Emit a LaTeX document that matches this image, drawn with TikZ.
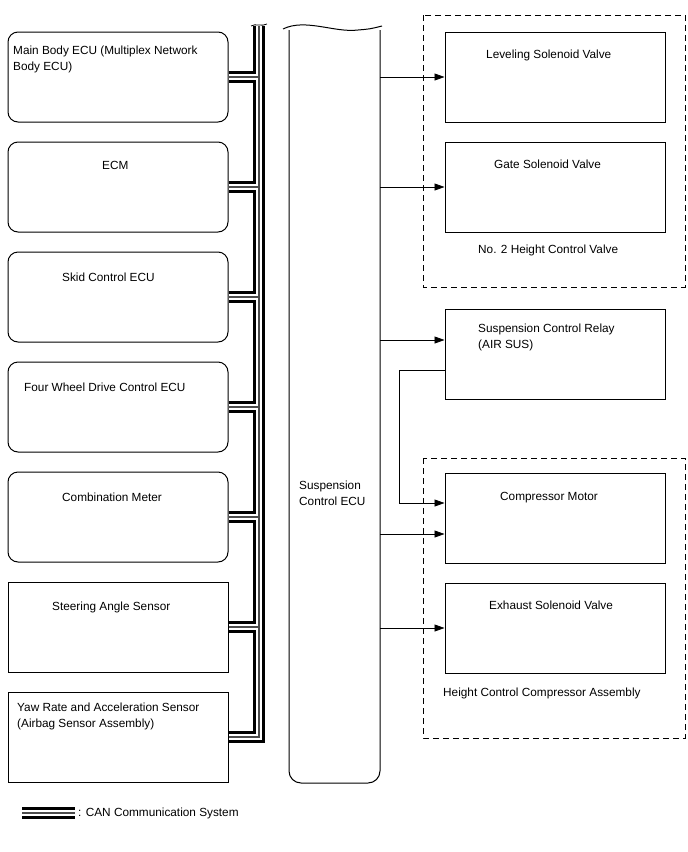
\documentclass[tikz,border=0pt]{standalone}
\usepackage{fontspec}
\setmainfont{Liberation Sans}
\usetikzlibrary{arrows.meta,calc}
\begin{document}
\begin{tikzpicture}[x=1pt,y=-1pt,
 lbox/.style={draw, line width=1pt, rounded corners=10pt, minimum width=220pt, minimum height=90pt, inner sep=0},
 sbox/.style={draw, line width=1pt, minimum width=220pt, minimum height=90pt, inner sep=0},
 txt/.style={font=\fontsize{11.8}{16}\selectfont, inner sep=0, anchor=base west, align=left},
 arr/.style={line width=0.8pt, -{Triangle[length=10pt,width=7pt]}},
 dbox/.style={draw, dash pattern=on 6pt off 4pt, line width=1pt},
 canA/.style={line width=12pt, black, line join=miter},
 canB/.style={line width=6pt, white, line join=miter},
 canC/.style={line width=1.2pt, black!70, line join=miter},
]
\useasboundingbox (0,0) rectangle (688,852);

% left boxes
\node[lbox] (mb) at (118,77) {};
\node[lbox] (ecm) at (118,187) {};
\node[lbox] (skid) at (118,297) {};
\node[lbox] (fwd) at (118,407) {};
\node[lbox] (meter) at (118,517) {};
\node[sbox] (steer) at (118,627) {};
\node[sbox] (yaw) at (118,737) {};

\node[txt] (mbt) at (13,70.5) {Main Body ECU (Multiplex Network\\Body ECU)};
\node[txt] (ecmt) at (102,169) {ECM};
\node[txt] (skidt) at (62,281) {Skid Control ECU};
\node[txt] (fwdt) at (24,391) {Four Wheel Drive Control ECU};
\node[txt] (metert) at (62,501) {Combination Meter};
\node[txt] (steert) at (52,610) {Steering Angle Sensor};
\node[txt] (yawt) at (17,727) {Yaw Rate and Acceleration Sensor\\(Airbag Sensor Assembly)};

% CAN bus
\coordinate (bustop) at (259,26);
\coordinate (busbot) at (259,737);
\coordinate (legL) at (22,813);
\coordinate (legR) at (75,813);
\foreach \s in {canA,canB,canC}{
  \draw[\s] (bustop) -- (busbot) -- (yaw.east);
  \foreach \b in {mb,ecm,skid,fwd,meter,steer}{
    \draw[\s] (\b.east) -- (\b.east -| bustop);
  }
  \draw[\s] (legL) -- (legR);
}
\draw[line width=0.8pt] (251,26) .. controls (255,23) and (262,27) .. (267,24);
\node[font=\fontsize{11.8}{16}\selectfont, inner sep=0, anchor=west] (legt) at (78,813) {: CAN Communication System};

% Suspension Control ECU
\node[inner sep=0, minimum width=91pt, minimum height=755pt] (ecu) at (334.5,405.5) {};
\draw[line width=1pt, rounded corners=12pt] (289,30) -- (289,783) -- (380,783) -- (380,30);
\draw[line width=1pt] (283,29) .. controls (305,18) and (335,33) .. (358,30) .. controls (370,29) .. (382,26);
\node[txt] (ecut) at (299,505) {Suspension\\Control ECU};

% right boxes
\node[sbox] (lev) at (555,77) {};
\node[sbox] (gate) at (555,187) {};
\node[sbox] (relay) at (555,354) {};
\node[sbox] (comp) at (555,518) {};
\node[sbox] (exh) at (555,628) {};

\node[txt] (levt) at (486,58) {Leveling Solenoid Valve};
\node[txt] (gatet) at (494,168) {Gate Solenoid Valve};
\node[txt] (relayt) at (478,348) {Suspension Control Relay\\(AIR SUS)};
\node[txt] (compt) at (500,500) {Compressor Motor};
\node[txt] (exht) at (489,609) {Exhaust Solenoid Valve};

% dashed groups
\draw[dbox] (423,15) rectangle (685,287);
\draw[dbox] (423,458) rectangle (685,738);
\node[txt] (hcv) at (478,253) {No. 2 Height Control Valve};
\node[txt] (hcc) at (443,696) {Height Control Compressor Assembly};

% arrows
\draw[arr] (ecu.east |- lev.west) -- (lev.west);
\draw[arr] (ecu.east |- gate.west) -- (gate.west);
\draw[arr] (ecu.east |- {$(relay.west)+(0,-14)$}) -- ($(relay.west)+(0,-14)$);
\draw[arr] (ecu.east |- {$(comp.west)+(0,16)$}) -- ($(comp.west)+(0,16)$);
\draw[arr] (ecu.east |- exh.west) -- (exh.west);
\draw[arr] ($(relay.west)+(0,16)$) -- ++(-45,0) |- ($(comp.west)+(0,-15)$);
\end{tikzpicture}
\end{document}
